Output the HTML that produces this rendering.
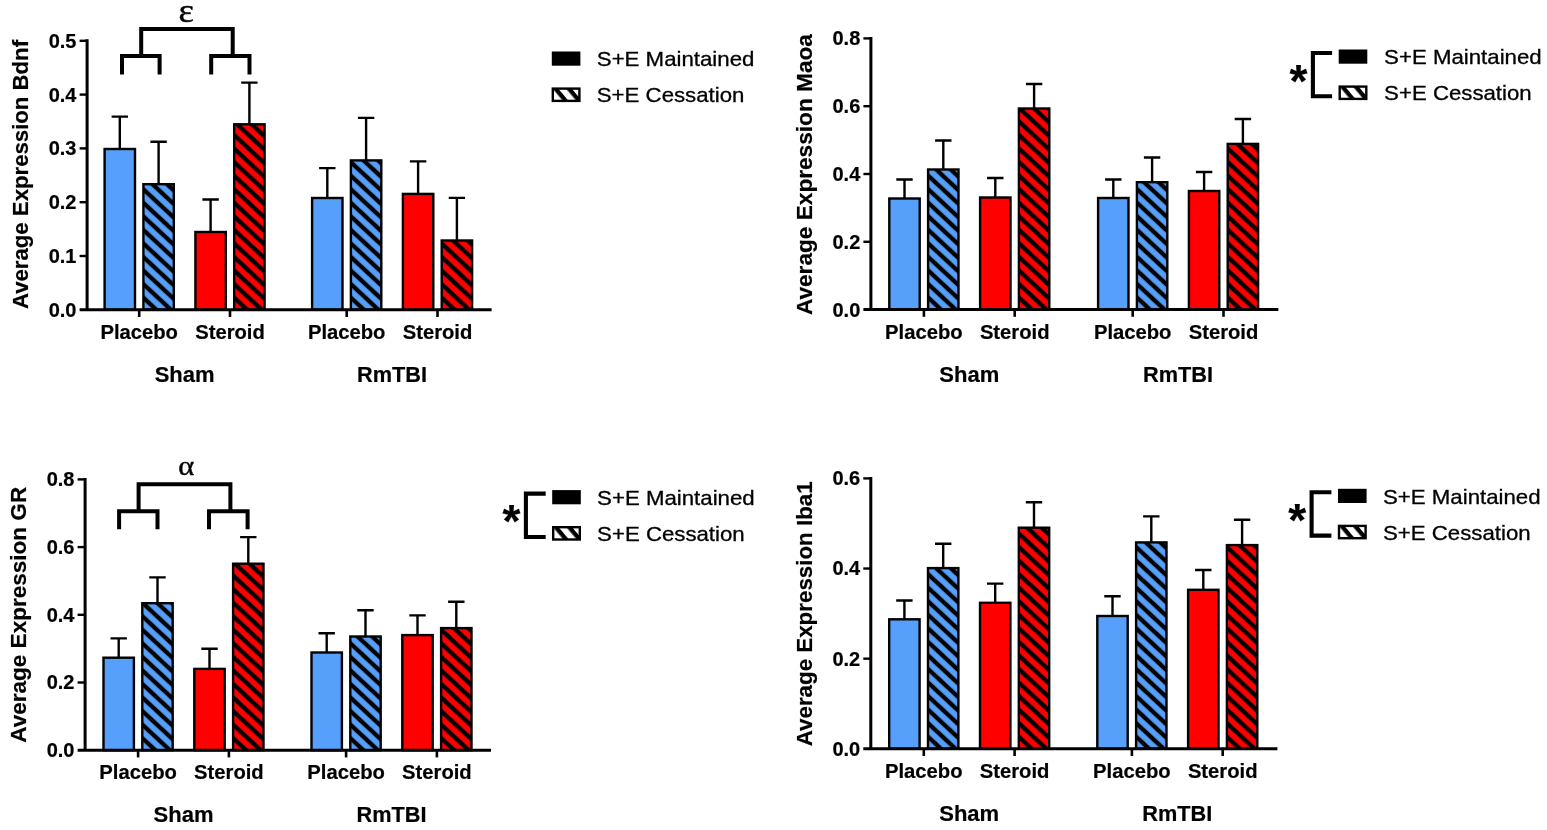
<!DOCTYPE html>
<html><head><meta charset="utf-8"><title>Figure</title>
<style>html,body{margin:0;padding:0;background:#fff}svg{display:block;filter:blur(0.45px)}text{fill:#000}</style>
</head><body>
<svg width="1547" height="830" viewBox="0 0 1547 830">
<defs>
<pattern id="hatch" patternUnits="userSpaceOnUse" x="0" y="0" width="20" height="9.922" patternTransform="translate(0 -11) rotate(42.92) translate(0 -4.961)"><rect x="-1" y="2.801" width="22" height="4.320" fill="#000"/></pattern>
<pattern id="hatchL" patternUnits="userSpaceOnUse" width="20" height="10.3" patternTransform="translate(7.7 2.5) rotate(50)"><rect x="-1" y="0" width="22" height="4.3" fill="#000"/></pattern>
</defs>
<rect width="1547" height="830" fill="#fff"/>
<path d="M119.80 149.00V116.60M111.60 116.60H128.00" stroke="#000" stroke-width="2.4" fill="none"/>
<rect x="104.60" y="149.00" width="30.40" height="160.80" fill="#56a0fb"/>
<rect x="104.60" y="149.00" width="30.40" height="160.80" fill="none" stroke="#000" stroke-width="2.4"/>
<path d="M158.60 184.20V141.80M150.40 141.80H166.80" stroke="#000" stroke-width="2.4" fill="none"/>
<rect x="143.40" y="184.20" width="30.40" height="125.60" fill="#56a0fb"/>
<g transform="translate(144.60 309.80)"><rect x="-1.20" y="-125.60" width="30.40" height="125.60" fill="url(#hatch)"/></g>
<rect x="143.40" y="184.20" width="30.40" height="125.60" fill="none" stroke="#000" stroke-width="2.4"/>
<path d="M210.60 232.00V199.50M202.40 199.50H218.80" stroke="#000" stroke-width="2.4" fill="none"/>
<rect x="195.40" y="232.00" width="30.40" height="77.80" fill="#ff0000"/>
<rect x="195.40" y="232.00" width="30.40" height="77.80" fill="none" stroke="#000" stroke-width="2.4"/>
<path d="M249.40 124.30V82.60M241.20 82.60H257.60" stroke="#000" stroke-width="2.4" fill="none"/>
<rect x="234.20" y="124.30" width="30.40" height="185.50" fill="#ff0000"/>
<g transform="translate(235.40 309.80)"><rect x="-1.20" y="-185.50" width="30.40" height="185.50" fill="url(#hatch)"/></g>
<rect x="234.20" y="124.30" width="30.40" height="185.50" fill="none" stroke="#000" stroke-width="2.4"/>
<path d="M327.30 198.00V168.10M319.10 168.10H335.50" stroke="#000" stroke-width="2.4" fill="none"/>
<rect x="312.10" y="198.00" width="30.40" height="111.80" fill="#56a0fb"/>
<rect x="312.10" y="198.00" width="30.40" height="111.80" fill="none" stroke="#000" stroke-width="2.4"/>
<path d="M366.10 160.40V117.90M357.90 117.90H374.30" stroke="#000" stroke-width="2.4" fill="none"/>
<rect x="350.90" y="160.40" width="30.40" height="149.40" fill="#56a0fb"/>
<g transform="translate(352.10 309.80)"><rect x="-1.20" y="-149.40" width="30.40" height="149.40" fill="url(#hatch)"/></g>
<rect x="350.90" y="160.40" width="30.40" height="149.40" fill="none" stroke="#000" stroke-width="2.4"/>
<path d="M418.10 193.90V161.40M409.90 161.40H426.30" stroke="#000" stroke-width="2.4" fill="none"/>
<rect x="402.90" y="193.90" width="30.40" height="115.90" fill="#ff0000"/>
<rect x="402.90" y="193.90" width="30.40" height="115.90" fill="none" stroke="#000" stroke-width="2.4"/>
<path d="M456.90 240.50V197.90M448.70 197.90H465.10" stroke="#000" stroke-width="2.4" fill="none"/>
<rect x="441.70" y="240.50" width="30.40" height="69.30" fill="#ff0000"/>
<g transform="translate(442.90 309.80)"><rect x="-1.20" y="-69.30" width="30.40" height="69.30" fill="url(#hatch)"/></g>
<rect x="441.70" y="240.50" width="30.40" height="69.30" fill="none" stroke="#000" stroke-width="2.4"/>
<path d="M87.10 39.30V309.80M79.60 309.80H491.60" stroke="#000" stroke-width="3.0" fill="none"/>
<text x="76.50" y="316.75" font-size="19.3" font-weight="bold" text-anchor="end" font-family="Liberation Sans, Arial, Helvetica, sans-serif" textLength="27.80" lengthAdjust="spacingAndGlyphs" stroke="#000" stroke-width="0.2">0.0</text>
<path d="M79.60 256.00H87.10" stroke="#000" stroke-width="2.4"/>
<text x="76.50" y="262.95" font-size="19.3" font-weight="bold" text-anchor="end" font-family="Liberation Sans, Arial, Helvetica, sans-serif" textLength="27.80" lengthAdjust="spacingAndGlyphs" stroke="#000" stroke-width="0.2">0.1</text>
<path d="M79.60 202.20H87.10" stroke="#000" stroke-width="2.4"/>
<text x="76.50" y="209.15" font-size="19.3" font-weight="bold" text-anchor="end" font-family="Liberation Sans, Arial, Helvetica, sans-serif" textLength="27.80" lengthAdjust="spacingAndGlyphs" stroke="#000" stroke-width="0.2">0.2</text>
<path d="M79.60 148.40H87.10" stroke="#000" stroke-width="2.4"/>
<text x="76.50" y="155.35" font-size="19.3" font-weight="bold" text-anchor="end" font-family="Liberation Sans, Arial, Helvetica, sans-serif" textLength="27.80" lengthAdjust="spacingAndGlyphs" stroke="#000" stroke-width="0.2">0.3</text>
<path d="M79.60 94.60H87.10" stroke="#000" stroke-width="2.4"/>
<text x="76.50" y="101.55" font-size="19.3" font-weight="bold" text-anchor="end" font-family="Liberation Sans, Arial, Helvetica, sans-serif" textLength="27.80" lengthAdjust="spacingAndGlyphs" stroke="#000" stroke-width="0.2">0.4</text>
<path d="M79.60 40.80H87.10" stroke="#000" stroke-width="2.4"/>
<text x="76.50" y="47.75" font-size="19.3" font-weight="bold" text-anchor="end" font-family="Liberation Sans, Arial, Helvetica, sans-serif" textLength="27.80" lengthAdjust="spacingAndGlyphs" stroke="#000" stroke-width="0.2">0.5</text>
<path d="M139.20 309.80V317.00" stroke="#000" stroke-width="2.6"/>
<path d="M230.00 309.80V317.00" stroke="#000" stroke-width="2.6"/>
<path d="M346.70 309.80V317.00" stroke="#000" stroke-width="2.6"/>
<path d="M437.50 309.80V317.00" stroke="#000" stroke-width="2.6"/>
<text x="139.20" y="338.80" font-size="19.6" font-weight="bold" text-anchor="middle" font-family="Liberation Sans, Arial, Helvetica, sans-serif" textLength="77.60" lengthAdjust="spacingAndGlyphs" stroke="#000" stroke-width="0.2">Placebo</text>
<text x="230.00" y="338.80" font-size="19.6" font-weight="bold" text-anchor="middle" font-family="Liberation Sans, Arial, Helvetica, sans-serif" textLength="69.60" lengthAdjust="spacingAndGlyphs" stroke="#000" stroke-width="0.2">Steroid</text>
<text x="346.70" y="338.80" font-size="19.6" font-weight="bold" text-anchor="middle" font-family="Liberation Sans, Arial, Helvetica, sans-serif" textLength="77.60" lengthAdjust="spacingAndGlyphs" stroke="#000" stroke-width="0.2">Placebo</text>
<text x="437.50" y="338.80" font-size="19.6" font-weight="bold" text-anchor="middle" font-family="Liberation Sans, Arial, Helvetica, sans-serif" textLength="69.60" lengthAdjust="spacingAndGlyphs" stroke="#000" stroke-width="0.2">Steroid</text>
<text x="184.60" y="381.80" font-size="22.6" font-weight="bold" text-anchor="middle" font-family="Liberation Sans, Arial, Helvetica, sans-serif" textLength="59.90" lengthAdjust="spacingAndGlyphs" stroke="#000" stroke-width="0.2">Sham</text>
<text x="392.10" y="381.80" font-size="22.6" font-weight="bold" text-anchor="middle" font-family="Liberation Sans, Arial, Helvetica, sans-serif" textLength="70.00" lengthAdjust="spacingAndGlyphs" stroke="#000" stroke-width="0.2">RmTBI</text>
<text x="28.30" y="174.50" font-size="22.3" font-weight="bold" text-anchor="middle" font-family="Liberation Sans, Arial, Helvetica, sans-serif" textLength="269.10" lengthAdjust="spacingAndGlyphs" transform="rotate(-90 28.30 174.50)" stroke="#000" stroke-width="0.2">Average Expression Bdnf</text>
<path d="M141.20 56.00V29.00H232.70V56.00M122.00 74.40V56.00H159.60V74.40M211.20 74.40V56.00H249.50V74.40" stroke="#000" stroke-width="4.0" fill="none" stroke-linejoin="miter"/>
<g transform="translate(186.30 21.50) scale(1.08 1)"><text x="0" y="0" font-size="34" text-anchor="middle" font-family="Liberation Serif, Times New Roman, serif" stroke="#000" stroke-width="0.4">ε</text></g>
<rect x="551.80" y="51.50" width="28.6" height="14.2" fill="#000"/>
<g transform="translate(551.80 87.60)"><rect x="1" y="1" width="26.6" height="12.3" fill="url(#hatchL)"/><rect x="1" y="1" width="26.6" height="12.3" fill="none" stroke="#000" stroke-width="2.4"/></g>
<text x="596.80" y="66.20" font-size="20.4" font-weight="normal" text-anchor="start" font-family="Liberation Sans, Arial, Helvetica, sans-serif" textLength="157.60" lengthAdjust="spacingAndGlyphs" stroke="#000" stroke-width="0.3">S+E Maintained</text>
<text x="596.80" y="102.20" font-size="20.4" font-weight="normal" text-anchor="start" font-family="Liberation Sans, Arial, Helvetica, sans-serif" textLength="147.60" lengthAdjust="spacingAndGlyphs" stroke="#000" stroke-width="0.3">S+E Cessation</text>
<path d="M904.50 198.50V179.50M896.30 179.50H912.70" stroke="#000" stroke-width="2.4" fill="none"/>
<rect x="889.30" y="198.50" width="30.40" height="111.10" fill="#56a0fb"/>
<rect x="889.30" y="198.50" width="30.40" height="111.10" fill="none" stroke="#000" stroke-width="2.4"/>
<path d="M943.30 169.50V140.50M935.10 140.50H951.50" stroke="#000" stroke-width="2.4" fill="none"/>
<rect x="928.10" y="169.50" width="30.40" height="140.10" fill="#56a0fb"/>
<g transform="translate(929.30 309.60)"><rect x="-1.20" y="-140.10" width="30.40" height="140.10" fill="url(#hatch)"/></g>
<rect x="928.10" y="169.50" width="30.40" height="140.10" fill="none" stroke="#000" stroke-width="2.4"/>
<path d="M995.30 197.50V178.00M987.10 178.00H1003.50" stroke="#000" stroke-width="2.4" fill="none"/>
<rect x="980.10" y="197.50" width="30.40" height="112.10" fill="#ff0000"/>
<rect x="980.10" y="197.50" width="30.40" height="112.10" fill="none" stroke="#000" stroke-width="2.4"/>
<path d="M1034.10 108.50V84.00M1025.90 84.00H1042.30" stroke="#000" stroke-width="2.4" fill="none"/>
<rect x="1018.90" y="108.50" width="30.40" height="201.10" fill="#ff0000"/>
<g transform="translate(1020.10 309.60)"><rect x="-1.20" y="-201.10" width="30.40" height="201.10" fill="url(#hatch)"/></g>
<rect x="1018.90" y="108.50" width="30.40" height="201.10" fill="none" stroke="#000" stroke-width="2.4"/>
<path d="M1113.30 198.00V179.50M1105.10 179.50H1121.50" stroke="#000" stroke-width="2.4" fill="none"/>
<rect x="1098.10" y="198.00" width="30.40" height="111.60" fill="#56a0fb"/>
<rect x="1098.10" y="198.00" width="30.40" height="111.60" fill="none" stroke="#000" stroke-width="2.4"/>
<path d="M1152.10 182.20V157.50M1143.90 157.50H1160.30" stroke="#000" stroke-width="2.4" fill="none"/>
<rect x="1136.90" y="182.20" width="30.40" height="127.40" fill="#56a0fb"/>
<g transform="translate(1138.10 309.60)"><rect x="-1.20" y="-127.40" width="30.40" height="127.40" fill="url(#hatch)"/></g>
<rect x="1136.90" y="182.20" width="30.40" height="127.40" fill="none" stroke="#000" stroke-width="2.4"/>
<path d="M1204.10 191.00V172.00M1195.90 172.00H1212.30" stroke="#000" stroke-width="2.4" fill="none"/>
<rect x="1188.90" y="191.00" width="30.40" height="118.60" fill="#ff0000"/>
<rect x="1188.90" y="191.00" width="30.40" height="118.60" fill="none" stroke="#000" stroke-width="2.4"/>
<path d="M1242.90 143.90V119.00M1234.70 119.00H1251.10" stroke="#000" stroke-width="2.4" fill="none"/>
<rect x="1227.70" y="143.90" width="30.40" height="165.70" fill="#ff0000"/>
<g transform="translate(1228.90 309.60)"><rect x="-1.20" y="-165.70" width="30.40" height="165.70" fill="url(#hatch)"/></g>
<rect x="1227.70" y="143.90" width="30.40" height="165.70" fill="none" stroke="#000" stroke-width="2.4"/>
<path d="M870.90 36.90V309.60M863.40 309.60H1278.40" stroke="#000" stroke-width="3.0" fill="none"/>
<text x="860.30" y="316.55" font-size="19.3" font-weight="bold" text-anchor="end" font-family="Liberation Sans, Arial, Helvetica, sans-serif" textLength="27.80" lengthAdjust="spacingAndGlyphs" stroke="#000" stroke-width="0.2">0.0</text>
<path d="M863.40 241.80H870.90" stroke="#000" stroke-width="2.4"/>
<text x="860.30" y="248.75" font-size="19.3" font-weight="bold" text-anchor="end" font-family="Liberation Sans, Arial, Helvetica, sans-serif" textLength="27.80" lengthAdjust="spacingAndGlyphs" stroke="#000" stroke-width="0.2">0.2</text>
<path d="M863.40 174.00H870.90" stroke="#000" stroke-width="2.4"/>
<text x="860.30" y="180.95" font-size="19.3" font-weight="bold" text-anchor="end" font-family="Liberation Sans, Arial, Helvetica, sans-serif" textLength="27.80" lengthAdjust="spacingAndGlyphs" stroke="#000" stroke-width="0.2">0.4</text>
<path d="M863.40 106.20H870.90" stroke="#000" stroke-width="2.4"/>
<text x="860.30" y="113.15" font-size="19.3" font-weight="bold" text-anchor="end" font-family="Liberation Sans, Arial, Helvetica, sans-serif" textLength="27.80" lengthAdjust="spacingAndGlyphs" stroke="#000" stroke-width="0.2">0.6</text>
<path d="M863.40 38.40H870.90" stroke="#000" stroke-width="2.4"/>
<text x="860.30" y="45.35" font-size="19.3" font-weight="bold" text-anchor="end" font-family="Liberation Sans, Arial, Helvetica, sans-serif" textLength="27.80" lengthAdjust="spacingAndGlyphs" stroke="#000" stroke-width="0.2">0.8</text>
<path d="M923.90 309.60V316.80" stroke="#000" stroke-width="2.6"/>
<path d="M1014.70 309.60V316.80" stroke="#000" stroke-width="2.6"/>
<path d="M1132.70 309.60V316.80" stroke="#000" stroke-width="2.6"/>
<path d="M1223.50 309.60V316.80" stroke="#000" stroke-width="2.6"/>
<text x="923.90" y="338.60" font-size="19.6" font-weight="bold" text-anchor="middle" font-family="Liberation Sans, Arial, Helvetica, sans-serif" textLength="77.60" lengthAdjust="spacingAndGlyphs" stroke="#000" stroke-width="0.2">Placebo</text>
<text x="1014.70" y="338.60" font-size="19.6" font-weight="bold" text-anchor="middle" font-family="Liberation Sans, Arial, Helvetica, sans-serif" textLength="69.60" lengthAdjust="spacingAndGlyphs" stroke="#000" stroke-width="0.2">Steroid</text>
<text x="1132.70" y="338.60" font-size="19.6" font-weight="bold" text-anchor="middle" font-family="Liberation Sans, Arial, Helvetica, sans-serif" textLength="77.60" lengthAdjust="spacingAndGlyphs" stroke="#000" stroke-width="0.2">Placebo</text>
<text x="1223.50" y="338.60" font-size="19.6" font-weight="bold" text-anchor="middle" font-family="Liberation Sans, Arial, Helvetica, sans-serif" textLength="69.60" lengthAdjust="spacingAndGlyphs" stroke="#000" stroke-width="0.2">Steroid</text>
<text x="969.30" y="381.60" font-size="22.6" font-weight="bold" text-anchor="middle" font-family="Liberation Sans, Arial, Helvetica, sans-serif" textLength="59.90" lengthAdjust="spacingAndGlyphs" stroke="#000" stroke-width="0.2">Sham</text>
<text x="1178.10" y="381.60" font-size="22.6" font-weight="bold" text-anchor="middle" font-family="Liberation Sans, Arial, Helvetica, sans-serif" textLength="70.00" lengthAdjust="spacingAndGlyphs" stroke="#000" stroke-width="0.2">RmTBI</text>
<text x="812.10" y="174.60" font-size="22.3" font-weight="bold" text-anchor="middle" font-family="Liberation Sans, Arial, Helvetica, sans-serif" textLength="281.00" lengthAdjust="spacingAndGlyphs" transform="rotate(-90 812.10 174.60)" stroke="#000" stroke-width="0.2">Average Expression Maoa</text>
<rect x="1338.70" y="49.50" width="28.6" height="14.2" fill="#000"/>
<g transform="translate(1338.70 85.60)"><rect x="1" y="1" width="26.6" height="12.3" fill="url(#hatchL)"/><rect x="1" y="1" width="26.6" height="12.3" fill="none" stroke="#000" stroke-width="2.4"/></g>
<text x="1384.10" y="64.20" font-size="20.4" font-weight="normal" text-anchor="start" font-family="Liberation Sans, Arial, Helvetica, sans-serif" textLength="157.60" lengthAdjust="spacingAndGlyphs" stroke="#000" stroke-width="0.3">S+E Maintained</text>
<text x="1384.10" y="100.20" font-size="20.4" font-weight="normal" text-anchor="start" font-family="Liberation Sans, Arial, Helvetica, sans-serif" textLength="147.60" lengthAdjust="spacingAndGlyphs" stroke="#000" stroke-width="0.3">S+E Cessation</text>
<path d="M1332.10 53.00H1312.90V96.20H1332.10" stroke="#000" stroke-width="4.1" fill="none"/>
<text x="1298.50" y="97.00" font-size="46" font-weight="bold" text-anchor="middle" font-family="Liberation Sans, Arial, Helvetica, sans-serif" stroke="#000" stroke-width="0.2">*</text>
<path d="M118.70 657.70V638.40M110.50 638.40H126.90" stroke="#000" stroke-width="2.4" fill="none"/>
<rect x="103.50" y="657.70" width="30.40" height="92.50" fill="#56a0fb"/>
<rect x="103.50" y="657.70" width="30.40" height="92.50" fill="none" stroke="#000" stroke-width="2.4"/>
<path d="M157.50 603.20V577.40M149.30 577.40H165.70" stroke="#000" stroke-width="2.4" fill="none"/>
<rect x="142.30" y="603.20" width="30.40" height="147.00" fill="#56a0fb"/>
<g transform="translate(143.50 750.20)"><rect x="-1.20" y="-147.00" width="30.40" height="147.00" fill="url(#hatch)"/></g>
<rect x="142.30" y="603.20" width="30.40" height="147.00" fill="none" stroke="#000" stroke-width="2.4"/>
<path d="M209.50 668.90V648.70M201.30 648.70H217.70" stroke="#000" stroke-width="2.4" fill="none"/>
<rect x="194.30" y="668.90" width="30.40" height="81.30" fill="#ff0000"/>
<rect x="194.30" y="668.90" width="30.40" height="81.30" fill="none" stroke="#000" stroke-width="2.4"/>
<path d="M248.30 563.70V537.10M240.10 537.10H256.50" stroke="#000" stroke-width="2.4" fill="none"/>
<rect x="233.10" y="563.70" width="30.40" height="186.50" fill="#ff0000"/>
<g transform="translate(234.30 750.20)"><rect x="-1.20" y="-186.50" width="30.40" height="186.50" fill="url(#hatch)"/></g>
<rect x="233.10" y="563.70" width="30.40" height="186.50" fill="none" stroke="#000" stroke-width="2.4"/>
<path d="M326.70 652.50V633.20M318.50 633.20H334.90" stroke="#000" stroke-width="2.4" fill="none"/>
<rect x="311.50" y="652.50" width="30.40" height="97.70" fill="#56a0fb"/>
<rect x="311.50" y="652.50" width="30.40" height="97.70" fill="none" stroke="#000" stroke-width="2.4"/>
<path d="M365.50 636.50V610.20M357.30 610.20H373.70" stroke="#000" stroke-width="2.4" fill="none"/>
<rect x="350.30" y="636.50" width="30.40" height="113.70" fill="#56a0fb"/>
<g transform="translate(351.50 750.20)"><rect x="-1.20" y="-113.70" width="30.40" height="113.70" fill="url(#hatch)"/></g>
<rect x="350.30" y="636.50" width="30.40" height="113.70" fill="none" stroke="#000" stroke-width="2.4"/>
<path d="M417.50 635.10V615.40M409.30 615.40H425.70" stroke="#000" stroke-width="2.4" fill="none"/>
<rect x="402.30" y="635.10" width="30.40" height="115.10" fill="#ff0000"/>
<rect x="402.30" y="635.10" width="30.40" height="115.10" fill="none" stroke="#000" stroke-width="2.4"/>
<path d="M456.30 628.10V601.80M448.10 601.80H464.50" stroke="#000" stroke-width="2.4" fill="none"/>
<rect x="441.10" y="628.10" width="30.40" height="122.10" fill="#ff0000"/>
<g transform="translate(442.30 750.20)"><rect x="-1.20" y="-122.10" width="30.40" height="122.10" fill="url(#hatch)"/></g>
<rect x="441.10" y="628.10" width="30.40" height="122.10" fill="none" stroke="#000" stroke-width="2.4"/>
<path d="M85.10 477.90V750.20M77.60 750.20H491.00" stroke="#000" stroke-width="3.0" fill="none"/>
<text x="74.50" y="757.15" font-size="19.3" font-weight="bold" text-anchor="end" font-family="Liberation Sans, Arial, Helvetica, sans-serif" textLength="27.80" lengthAdjust="spacingAndGlyphs" stroke="#000" stroke-width="0.2">0.0</text>
<path d="M77.60 682.50H85.10" stroke="#000" stroke-width="2.4"/>
<text x="74.50" y="689.45" font-size="19.3" font-weight="bold" text-anchor="end" font-family="Liberation Sans, Arial, Helvetica, sans-serif" textLength="27.80" lengthAdjust="spacingAndGlyphs" stroke="#000" stroke-width="0.2">0.2</text>
<path d="M77.60 614.80H85.10" stroke="#000" stroke-width="2.4"/>
<text x="74.50" y="621.75" font-size="19.3" font-weight="bold" text-anchor="end" font-family="Liberation Sans, Arial, Helvetica, sans-serif" textLength="27.80" lengthAdjust="spacingAndGlyphs" stroke="#000" stroke-width="0.2">0.4</text>
<path d="M77.60 547.10H85.10" stroke="#000" stroke-width="2.4"/>
<text x="74.50" y="554.05" font-size="19.3" font-weight="bold" text-anchor="end" font-family="Liberation Sans, Arial, Helvetica, sans-serif" textLength="27.80" lengthAdjust="spacingAndGlyphs" stroke="#000" stroke-width="0.2">0.6</text>
<path d="M77.60 479.40H85.10" stroke="#000" stroke-width="2.4"/>
<text x="74.50" y="486.35" font-size="19.3" font-weight="bold" text-anchor="end" font-family="Liberation Sans, Arial, Helvetica, sans-serif" textLength="27.80" lengthAdjust="spacingAndGlyphs" stroke="#000" stroke-width="0.2">0.8</text>
<path d="M138.10 750.20V757.40" stroke="#000" stroke-width="2.6"/>
<path d="M228.90 750.20V757.40" stroke="#000" stroke-width="2.6"/>
<path d="M346.10 750.20V757.40" stroke="#000" stroke-width="2.6"/>
<path d="M436.90 750.20V757.40" stroke="#000" stroke-width="2.6"/>
<text x="138.10" y="779.20" font-size="19.6" font-weight="bold" text-anchor="middle" font-family="Liberation Sans, Arial, Helvetica, sans-serif" textLength="77.60" lengthAdjust="spacingAndGlyphs" stroke="#000" stroke-width="0.2">Placebo</text>
<text x="228.90" y="779.20" font-size="19.6" font-weight="bold" text-anchor="middle" font-family="Liberation Sans, Arial, Helvetica, sans-serif" textLength="69.60" lengthAdjust="spacingAndGlyphs" stroke="#000" stroke-width="0.2">Steroid</text>
<text x="346.10" y="779.20" font-size="19.6" font-weight="bold" text-anchor="middle" font-family="Liberation Sans, Arial, Helvetica, sans-serif" textLength="77.60" lengthAdjust="spacingAndGlyphs" stroke="#000" stroke-width="0.2">Placebo</text>
<text x="436.90" y="779.20" font-size="19.6" font-weight="bold" text-anchor="middle" font-family="Liberation Sans, Arial, Helvetica, sans-serif" textLength="69.60" lengthAdjust="spacingAndGlyphs" stroke="#000" stroke-width="0.2">Steroid</text>
<text x="183.50" y="822.20" font-size="22.6" font-weight="bold" text-anchor="middle" font-family="Liberation Sans, Arial, Helvetica, sans-serif" textLength="59.90" lengthAdjust="spacingAndGlyphs" stroke="#000" stroke-width="0.2">Sham</text>
<text x="391.50" y="822.20" font-size="22.6" font-weight="bold" text-anchor="middle" font-family="Liberation Sans, Arial, Helvetica, sans-serif" textLength="70.00" lengthAdjust="spacingAndGlyphs" stroke="#000" stroke-width="0.2">RmTBI</text>
<text x="26.30" y="614.80" font-size="22.3" font-weight="bold" text-anchor="middle" font-family="Liberation Sans, Arial, Helvetica, sans-serif" textLength="255.90" lengthAdjust="spacingAndGlyphs" transform="rotate(-90 26.30 614.80)" stroke="#000" stroke-width="0.2">Average Expression GR</text>
<path d="M138.60 511.30V484.20H230.40V511.30M119.10 529.20V511.30H157.50V529.20M209.00 529.20V511.30H247.60V529.20" stroke="#000" stroke-width="4.0" fill="none" stroke-linejoin="miter"/>
<g transform="translate(186.20 475.10) scale(1.13 1)"><text x="0" y="0" font-size="27" text-anchor="middle" font-family="Liberation Serif, Times New Roman, serif" stroke="#000" stroke-width="0.4">α</text></g>
<rect x="552.20" y="490.10" width="28.6" height="14.2" fill="#000"/>
<g transform="translate(552.20 526.20)"><rect x="1" y="1" width="26.6" height="12.3" fill="url(#hatchL)"/><rect x="1" y="1" width="26.6" height="12.3" fill="none" stroke="#000" stroke-width="2.4"/></g>
<text x="597.10" y="504.80" font-size="20.4" font-weight="normal" text-anchor="start" font-family="Liberation Sans, Arial, Helvetica, sans-serif" textLength="157.60" lengthAdjust="spacingAndGlyphs" stroke="#000" stroke-width="0.3">S+E Maintained</text>
<text x="597.10" y="540.80" font-size="20.4" font-weight="normal" text-anchor="start" font-family="Liberation Sans, Arial, Helvetica, sans-serif" textLength="147.60" lengthAdjust="spacingAndGlyphs" stroke="#000" stroke-width="0.3">S+E Cessation</text>
<path d="M545.70 493.60H525.90V537.00H545.70" stroke="#000" stroke-width="4.1" fill="none"/>
<text x="511.50" y="537.00" font-size="46" font-weight="bold" text-anchor="middle" font-family="Liberation Sans, Arial, Helvetica, sans-serif" stroke="#000" stroke-width="0.2">*</text>
<path d="M904.40 619.30V600.50M896.20 600.50H912.60" stroke="#000" stroke-width="2.4" fill="none"/>
<rect x="889.20" y="619.30" width="30.40" height="129.50" fill="#56a0fb"/>
<rect x="889.20" y="619.30" width="30.40" height="129.50" fill="none" stroke="#000" stroke-width="2.4"/>
<path d="M943.20 568.10V543.70M935.00 543.70H951.40" stroke="#000" stroke-width="2.4" fill="none"/>
<rect x="928.00" y="568.10" width="30.40" height="180.70" fill="#56a0fb"/>
<g transform="translate(929.20 748.80)"><rect x="-1.20" y="-180.70" width="30.40" height="180.70" fill="url(#hatch)"/></g>
<rect x="928.00" y="568.10" width="30.40" height="180.70" fill="none" stroke="#000" stroke-width="2.4"/>
<path d="M995.20 602.80V583.60M987.00 583.60H1003.40" stroke="#000" stroke-width="2.4" fill="none"/>
<rect x="980.00" y="602.80" width="30.40" height="146.00" fill="#ff0000"/>
<rect x="980.00" y="602.80" width="30.40" height="146.00" fill="none" stroke="#000" stroke-width="2.4"/>
<path d="M1034.00 527.70V502.30M1025.80 502.30H1042.20" stroke="#000" stroke-width="2.4" fill="none"/>
<rect x="1018.80" y="527.70" width="30.40" height="221.10" fill="#ff0000"/>
<g transform="translate(1020.00 748.80)"><rect x="-1.20" y="-221.10" width="30.40" height="221.10" fill="url(#hatch)"/></g>
<rect x="1018.80" y="527.70" width="30.40" height="221.10" fill="none" stroke="#000" stroke-width="2.4"/>
<path d="M1112.50 616.00V596.20M1104.30 596.20H1120.70" stroke="#000" stroke-width="2.4" fill="none"/>
<rect x="1097.30" y="616.00" width="30.40" height="132.80" fill="#56a0fb"/>
<rect x="1097.30" y="616.00" width="30.40" height="132.80" fill="none" stroke="#000" stroke-width="2.4"/>
<path d="M1151.30 542.40V516.40M1143.10 516.40H1159.50" stroke="#000" stroke-width="2.4" fill="none"/>
<rect x="1136.10" y="542.40" width="30.40" height="206.40" fill="#56a0fb"/>
<g transform="translate(1137.30 748.80)"><rect x="-1.20" y="-206.40" width="30.40" height="206.40" fill="url(#hatch)"/></g>
<rect x="1136.10" y="542.40" width="30.40" height="206.40" fill="none" stroke="#000" stroke-width="2.4"/>
<path d="M1203.30 589.80V570.00M1195.10 570.00H1211.50" stroke="#000" stroke-width="2.4" fill="none"/>
<rect x="1188.10" y="589.80" width="30.40" height="159.00" fill="#ff0000"/>
<rect x="1188.10" y="589.80" width="30.40" height="159.00" fill="none" stroke="#000" stroke-width="2.4"/>
<path d="M1242.10 545.10V519.70M1233.90 519.70H1250.30" stroke="#000" stroke-width="2.4" fill="none"/>
<rect x="1226.90" y="545.10" width="30.40" height="203.70" fill="#ff0000"/>
<g transform="translate(1228.10 748.80)"><rect x="-1.20" y="-203.70" width="30.40" height="203.70" fill="url(#hatch)"/></g>
<rect x="1226.90" y="545.10" width="30.40" height="203.70" fill="none" stroke="#000" stroke-width="2.4"/>
<path d="M870.80 476.90V748.80M863.30 748.80H1277.40" stroke="#000" stroke-width="3.0" fill="none"/>
<text x="860.20" y="755.75" font-size="19.3" font-weight="bold" text-anchor="end" font-family="Liberation Sans, Arial, Helvetica, sans-serif" textLength="27.80" lengthAdjust="spacingAndGlyphs" stroke="#000" stroke-width="0.2">0.0</text>
<path d="M863.30 658.67H870.80" stroke="#000" stroke-width="2.4"/>
<text x="860.20" y="665.62" font-size="19.3" font-weight="bold" text-anchor="end" font-family="Liberation Sans, Arial, Helvetica, sans-serif" textLength="27.80" lengthAdjust="spacingAndGlyphs" stroke="#000" stroke-width="0.2">0.2</text>
<path d="M863.30 568.53H870.80" stroke="#000" stroke-width="2.4"/>
<text x="860.20" y="575.48" font-size="19.3" font-weight="bold" text-anchor="end" font-family="Liberation Sans, Arial, Helvetica, sans-serif" textLength="27.80" lengthAdjust="spacingAndGlyphs" stroke="#000" stroke-width="0.2">0.4</text>
<path d="M863.30 478.40H870.80" stroke="#000" stroke-width="2.4"/>
<text x="860.20" y="485.35" font-size="19.3" font-weight="bold" text-anchor="end" font-family="Liberation Sans, Arial, Helvetica, sans-serif" textLength="27.80" lengthAdjust="spacingAndGlyphs" stroke="#000" stroke-width="0.2">0.6</text>
<path d="M923.80 748.80V756.00" stroke="#000" stroke-width="2.6"/>
<path d="M1014.60 748.80V756.00" stroke="#000" stroke-width="2.6"/>
<path d="M1131.90 748.80V756.00" stroke="#000" stroke-width="2.6"/>
<path d="M1222.70 748.80V756.00" stroke="#000" stroke-width="2.6"/>
<text x="923.80" y="777.80" font-size="19.6" font-weight="bold" text-anchor="middle" font-family="Liberation Sans, Arial, Helvetica, sans-serif" textLength="77.60" lengthAdjust="spacingAndGlyphs" stroke="#000" stroke-width="0.2">Placebo</text>
<text x="1014.60" y="777.80" font-size="19.6" font-weight="bold" text-anchor="middle" font-family="Liberation Sans, Arial, Helvetica, sans-serif" textLength="69.60" lengthAdjust="spacingAndGlyphs" stroke="#000" stroke-width="0.2">Steroid</text>
<text x="1131.90" y="777.80" font-size="19.6" font-weight="bold" text-anchor="middle" font-family="Liberation Sans, Arial, Helvetica, sans-serif" textLength="77.60" lengthAdjust="spacingAndGlyphs" stroke="#000" stroke-width="0.2">Placebo</text>
<text x="1222.70" y="777.80" font-size="19.6" font-weight="bold" text-anchor="middle" font-family="Liberation Sans, Arial, Helvetica, sans-serif" textLength="69.60" lengthAdjust="spacingAndGlyphs" stroke="#000" stroke-width="0.2">Steroid</text>
<text x="969.20" y="820.80" font-size="22.6" font-weight="bold" text-anchor="middle" font-family="Liberation Sans, Arial, Helvetica, sans-serif" textLength="59.90" lengthAdjust="spacingAndGlyphs" stroke="#000" stroke-width="0.2">Sham</text>
<text x="1177.30" y="820.80" font-size="22.6" font-weight="bold" text-anchor="middle" font-family="Liberation Sans, Arial, Helvetica, sans-serif" textLength="70.00" lengthAdjust="spacingAndGlyphs" stroke="#000" stroke-width="0.2">RmTBI</text>
<text x="812.00" y="613.80" font-size="22.3" font-weight="bold" text-anchor="middle" font-family="Liberation Sans, Arial, Helvetica, sans-serif" textLength="264.90" lengthAdjust="spacingAndGlyphs" transform="rotate(-90 812.00 613.80)" stroke="#000" stroke-width="0.2">Average Expression Iba1</text>
<rect x="1338.00" y="488.80" width="28.6" height="14.2" fill="#000"/>
<g transform="translate(1338.00 524.90)"><rect x="1" y="1" width="26.6" height="12.3" fill="url(#hatchL)"/><rect x="1" y="1" width="26.6" height="12.3" fill="none" stroke="#000" stroke-width="2.4"/></g>
<text x="1383.00" y="503.50" font-size="20.4" font-weight="normal" text-anchor="start" font-family="Liberation Sans, Arial, Helvetica, sans-serif" textLength="157.60" lengthAdjust="spacingAndGlyphs" stroke="#000" stroke-width="0.3">S+E Maintained</text>
<text x="1383.00" y="539.50" font-size="20.4" font-weight="normal" text-anchor="start" font-family="Liberation Sans, Arial, Helvetica, sans-serif" textLength="147.60" lengthAdjust="spacingAndGlyphs" stroke="#000" stroke-width="0.3">S+E Cessation</text>
<path d="M1331.40 492.20H1311.60V535.60H1331.40" stroke="#000" stroke-width="4.1" fill="none"/>
<text x="1297.30" y="536.00" font-size="46" font-weight="bold" text-anchor="middle" font-family="Liberation Sans, Arial, Helvetica, sans-serif" stroke="#000" stroke-width="0.2">*</text>
</svg></body></html>
